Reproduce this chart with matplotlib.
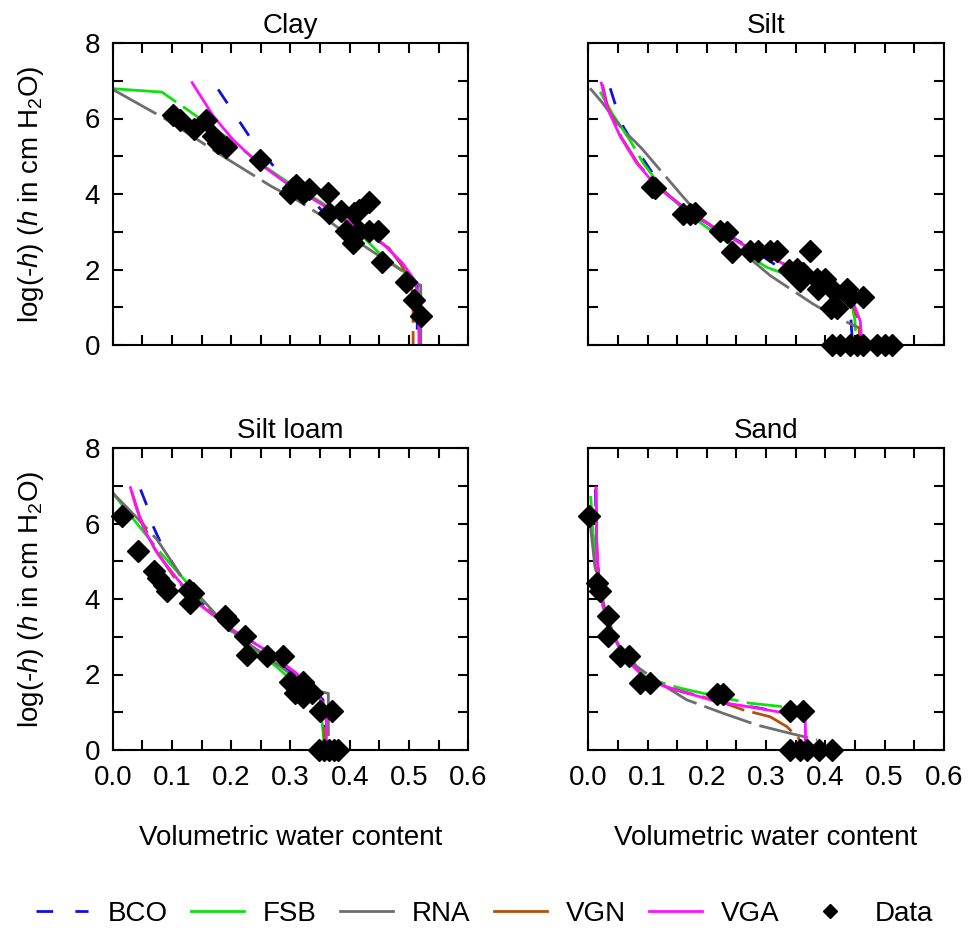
import matplotlib
matplotlib.use('Agg')
import matplotlib.pyplot as plt
from matplotlib.lines import Line2D
from matplotlib.ticker import MultipleLocator, FormatStrFormatter

plt.rcParams['font.family'] = ['Liberation Sans', 'DejaVu Sans']
plt.rcParams['mathtext.fontset'] = 'custom'
plt.rcParams['mathtext.rm'] = 'Liberation Sans'
plt.rcParams['mathtext.it'] = 'Liberation Sans:italic'

# ---- Clay ----
clay_data_x = [0.102, 0.113, 0.138, 0.158, 0.170, 0.178, 0.192, 0.248, 0.299, 0.304, 0.310, 0.321, 0.332, 0.364,
               0.365, 0.386, 0.408, 0.433, 0.394, 0.405, 0.416, 0.433, 0.447, 0.455, 0.495, 0.509, 0.520, 0.416]
clay_data_y = [6.08, 5.97, 5.73, 5.97, 5.53, 5.35, 5.25, 4.91, 4.03, 4.16, 4.25, 4.03, 4.12, 4.03,
               3.50, 3.54, 3.50, 3.78, 3.01, 2.70, 3.01, 3.01, 3.01, 2.21, 1.68, 1.19, 0.77, 3.58]
clay_bco_x = [0.178, 0.236, 0.279, 0.321, 0.377, 0.433, 0.495, 0.514, 0.514]
clay_bco_y = [6.77, 5.40, 4.60, 4.12, 3.14, 2.48, 1.90, 1.64, 0.0]
clay_fsb_x = [0.0, 0.083, 0.130, 0.198, 0.248, 0.293, 0.354, 0.411, 0.455, 0.495, 0.514, 0.517, 0.518]
clay_fsb_y = [6.79, 6.70, 6.19, 5.44, 4.82, 4.34, 3.76, 3.05, 2.35, 1.90, 1.64, 1.28, 0.0]
clay_rna_x = [0.0, 0.091, 0.147, 0.186, 0.268, 0.310, 0.354, 0.400, 0.438, 0.495, 0.517, 0.520, 0.520]
clay_rna_y = [6.77, 5.97, 5.40, 5.00, 4.20, 3.85, 3.41, 2.88, 2.48, 1.90, 1.59, 1.59, 0.0]
clay_vgn_x = [0.293, 0.354, 0.411, 0.438, 0.466, 0.487, 0.501, 0.507, 0.507]
clay_vgn_y = [4.29, 3.72, 3.10, 2.85, 2.57, 2.12, 1.73, 1.28, 0.0]
clay_vga_x = [0.134, 0.170, 0.203, 0.242, 0.293, 0.354, 0.411, 0.455, 0.489, 0.509, 0.516, 0.517]
clay_vga_y = [6.95, 6.06, 5.44, 4.87, 4.29, 3.72, 3.14, 2.70, 2.17, 1.73, 1.28, 0.0]

# ---- Silt ----
silt_data_x = [0.107, 0.113, 0.160, 0.171, 0.180, 0.222, 0.234, 0.242, 0.273, 0.287, 0.307, 0.318,
               0.374, 0.338, 0.352, 0.363, 0.358, 0.386, 0.400, 0.388, 0.414, 0.409, 0.420, 0.442,
               0.464, 0.437, 0.412, 0.425, 0.442, 0.453, 0.464, 0.488, 0.501, 0.513]
silt_data_y = [4.19, 4.15, 3.48, 3.48, 3.49, 3.03, 2.99, 2.46, 2.48, 2.48, 2.50, 2.48,
               2.50, 1.99, 2.01, 1.92, 1.70, 1.75, 1.75, 1.48, 1.44, 0.99, 0.99, 1.26,
               1.26, 1.48, 0, 0, 0, 0, 0, 0, 0, 0]
silt_bco_x = [0.037, 0.045, 0.059, 0.090, 0.132, 0.172, 0.217, 0.262, 0.318, 0.375, 0.420, 0.442, 0.446]
silt_bco_y = [6.80, 6.40, 5.78, 4.98, 4.01, 3.48, 3.08, 2.68, 2.10, 1.70, 1.35, 0.99, 0.0]
silt_fsb_x = [0.020, 0.042, 0.070, 0.093, 0.127, 0.172, 0.239, 0.301, 0.363, 0.420, 0.445, 0.450, 0.452]
silt_fsb_y = [6.71, 6.09, 5.43, 4.81, 4.10, 3.43, 2.68, 2.06, 1.70, 1.35, 1.08, 0.64, 0.0]
silt_rna_x = [0.003, 0.022, 0.059, 0.076, 0.090, 0.158, 0.195, 0.250, 0.307, 0.380, 0.420, 0.456]
silt_rna_y = [6.80, 6.45, 5.69, 5.43, 5.21, 3.96, 3.30, 2.59, 1.84, 1.08, 0.73, 0.46]
silt_vgn_x = [0.024, 0.033, 0.056, 0.084, 0.118, 0.162, 0.213, 0.270, 0.331, 0.386, 0.424, 0.446, 0.456, 0.459]
silt_vgn_y = [6.90, 6.28, 5.50, 4.80, 4.18, 3.64, 3.11, 2.58, 2.14, 1.78, 1.43, 1.07, 0.64, 0.0]
silt_vga_x = [0.022, 0.031, 0.054, 0.082, 0.116, 0.160, 0.211, 0.268, 0.330, 0.386, 0.425, 0.448, 0.459, 0.462]
silt_vga_y = [6.94, 6.31, 5.52, 4.81, 4.19, 3.65, 3.12, 2.59, 2.15, 1.79, 1.44, 1.08, 0.64, 0.0]

# ---- Silt loam ----
siltloam_data_x = [0.015, 0.043, 0.069, 0.077, 0.086, 0.091, 0.128, 0.131, 0.136, 0.190, 0.195, 0.224,
                   0.226, 0.260, 0.288, 0.300, 0.311, 0.322, 0.308, 0.322, 0.336, 0.350, 0.370,
                   0.348, 0.356, 0.365, 0.373, 0.381]
siltloam_data_y = [6.19, 5.26, 4.73, 4.55, 4.38, 4.20, 4.24, 3.89, 4.16, 3.54, 3.45, 3.01,
                   2.52, 2.49, 2.49, 1.81, 1.68, 1.81, 1.50, 1.41, 1.50, 1.02, 1.02,
                   0, 0, 0, 0, 0]
siltloam_bco_x = [0.047, 0.058, 0.067, 0.081, 0.104, 0.133, 0.190, 0.235, 0.287, 0.333, 0.355, 0.358]
siltloam_bco_y = [6.90, 6.46, 5.97, 5.49, 4.87, 4.16, 3.27, 2.74, 2.21, 1.68, 1.33, 0.0]
siltloam_fsb_x = [0.0, 0.024, 0.047, 0.081, 0.121, 0.161, 0.218, 0.276, 0.321, 0.350, 0.358]
siltloam_fsb_y = [6.81, 6.33, 5.88, 5.22, 4.51, 3.72, 2.92, 2.21, 1.59, 1.24, 0.0]
siltloam_rna_x = [0.0, 0.041, 0.075, 0.116, 0.190, 0.235, 0.287, 0.326, 0.350, 0.364, 0.364]
siltloam_rna_y = [6.81, 6.15, 5.57, 4.60, 3.32, 2.74, 2.17, 1.68, 1.55, 1.50, 0.0]
siltloam_vgn_x = [0.032, 0.045, 0.070, 0.105, 0.150, 0.200, 0.258, 0.309, 0.339, 0.355, 0.358]
siltloam_vgn_y = [6.85, 6.20, 5.35, 4.55, 3.82, 3.20, 2.65, 2.04, 1.59, 1.24, 0.0]
siltloam_vga_x = [0.030, 0.039, 0.053, 0.075, 0.110, 0.150, 0.201, 0.258, 0.309, 0.339, 0.355, 0.360, 0.361]
siltloam_vga_y = [6.95, 6.46, 5.84, 5.22, 4.51, 3.81, 3.19, 2.65, 2.04, 1.59, 1.24, 0.97, 0.0]

# ---- Sand ----
sand_data_x = [0.002, 0.014, 0.020, 0.034, 0.034, 0.054, 0.068, 0.087, 0.104, 0.217, 0.228, 0.341,
               0.363, 0.341, 0.358, 0.369, 0.389, 0.411]
sand_data_y = [6.19, 4.42, 4.20, 3.54, 3.01, 2.50, 2.50, 1.77, 1.77, 1.49, 1.49, 1.02,
               1.02, 0, 0, 0, 0, 0]
sand_bco_x = [0.012, 0.014, 0.018, 0.026, 0.043, 0.066, 0.100, 0.140, 0.218, 0.285, 0.333, 0.366, 0.367]
sand_bco_y = [6.90, 5.50, 4.45, 3.78, 3.00, 2.38, 1.86, 1.63, 1.28, 1.12, 0.98, 0.90, 0.0]
sand_fsb_x = [0.004, 0.008, 0.017, 0.025, 0.042, 0.065, 0.099, 0.155, 0.217, 0.273, 0.327]
sand_fsb_y = [6.73, 5.75, 4.51, 3.81, 3.01, 2.39, 1.90, 1.64, 1.42, 1.24, 1.15]
sand_rna_x = [0.003, 0.008, 0.011, 0.017, 0.030, 0.050, 0.082, 0.121, 0.166, 0.228, 0.285, 0.341, 0.386]
sand_rna_y = [6.02, 5.31, 4.87, 4.51, 3.60, 2.80, 2.21, 1.77, 1.33, 0.97, 0.66, 0.44, 0.27]
sand_vgn_x = [0.013, 0.014, 0.017, 0.025, 0.042, 0.065, 0.099, 0.138, 0.223, 0.262, 0.307, 0.335, 0.355, 0.361]
sand_vgn_y = [6.95, 5.58, 4.51, 3.81, 3.01, 2.39, 1.86, 1.64, 1.28, 1.06, 0.88, 0.62, 0.31, 0.0]
sand_vga_x = [0.013, 0.014, 0.017, 0.025, 0.042, 0.065, 0.099, 0.138, 0.217, 0.285, 0.335, 0.366, 0.367]
sand_vga_y = [6.95, 5.58, 4.51, 3.81, 3.01, 2.39, 1.86, 1.64, 1.28, 1.11, 0.97, 0.88, 0.0]

model_names = ['BCO', 'FSB', 'RNA', 'VGN', 'VGA']
model_colors = ['#1010e0', '#10e010', '#6e6e6e', '#b5500a', '#ff10ff']
model_dashes = [(0, (6, 8)), (0, (24, 3)), (0, (18, 3)), (0, (16, 3)), '-']

panels = [
    ('Clay', [(clay_bco_x, clay_bco_y), (clay_fsb_x, clay_fsb_y), (clay_rna_x, clay_rna_y),
              (clay_vgn_x, clay_vgn_y), (clay_vga_x, clay_vga_y)], clay_data_x, clay_data_y),
    ('Silt', [(silt_bco_x, silt_bco_y), (silt_fsb_x, silt_fsb_y), (silt_rna_x, silt_rna_y),
              (silt_vgn_x, silt_vgn_y), (silt_vga_x, silt_vga_y)], silt_data_x, silt_data_y),
    ('Silt loam', [(siltloam_bco_x, siltloam_bco_y), (siltloam_fsb_x, siltloam_fsb_y),
                   (siltloam_rna_x, siltloam_rna_y), (siltloam_vgn_x, siltloam_vgn_y),
                   (siltloam_vga_x, siltloam_vga_y)], siltloam_data_x, siltloam_data_y),
    ('Sand', [(sand_bco_x, sand_bco_y), (sand_fsb_x, sand_fsb_y), (sand_rna_x, sand_rna_y),
              (sand_vgn_x, sand_vgn_y), (sand_vga_x, sand_vga_y)], sand_data_x, sand_data_y),
]

fig = plt.figure(figsize=(9.69, 9.36), dpi=100)
lefts = [112.7 / 969, 588.3 / 969]
bottoms = [1 - 345 / 936, 1 - 750 / 936]
w, h = 355.5 / 969, 302 / 936

ylabel = r'log(-$\mathit{h}$) ($\mathit{h}$ in cm H$_2$O)'

for i, (title, curves, dx, dy) in enumerate(panels):
    row, col = divmod(i, 2)
    ax = fig.add_axes([lefts[col], bottoms[row], w, h])
    # brown and magenta on top, like the original
    order = [2, 1, 0, 3, 4]
    for k in order:
        cx, cy = curves[k]
        ax.plot(cx, cy, color=model_colors[k], linestyle=model_dashes[k], lw=2, zorder=2 + k * 0.1)
    ax.plot(dx, dy, linestyle='none', marker='D', ms=11, color='black', clip_on=False, zorder=5)

    ax.set_xlim(0, 0.6)
    ax.set_ylim(0, 8)
    ax.xaxis.set_major_locator(MultipleLocator(0.1))
    ax.xaxis.set_minor_locator(MultipleLocator(0.05))
    ax.yaxis.set_major_locator(MultipleLocator(2))
    ax.yaxis.set_minor_locator(MultipleLocator(1))
    ax.xaxis.set_major_formatter(FormatStrFormatter('%.1f'))
    ax.tick_params(which='both', direction='in', top=True, right=True, length=7, width=1.5)
    ax.tick_params(axis='x', labelsize=20, pad=11)
    ax.tick_params(axis='y', labelsize=20, pad=9)
    for s in ax.spines.values():
        s.set_linewidth(1.5)
    ax.set_title(title, fontsize=20, pad=7)
    if row == 0:
        ax.tick_params(labelbottom=False)
    else:
        ax.set_xlabel('Volumetric water content', fontsize=20, labelpad=24)
    if col == 1:
        ax.tick_params(labelleft=False)
    else:
        ax.set_ylabel(ylabel, fontsize=20, labelpad=28)

handles = []
for k in range(5):
    handles.append(Line2D([], [], color=model_colors[k], lw=2,
                          linestyle=model_dashes[k] if k == 0 else '-'))
handles.append(Line2D([], [], linestyle='none', marker='D', ms=7, color='black'))
fig.legend(handles, model_names + ['Data'], loc='center', bbox_to_anchor=(0.5, 1 - 914 / 936),
           ncol=6, frameon=False, fontsize=20, handlelength=1.9, handletextpad=0.68,
           columnspacing=0.85)

fig.savefig('out.png', dpi=100)
